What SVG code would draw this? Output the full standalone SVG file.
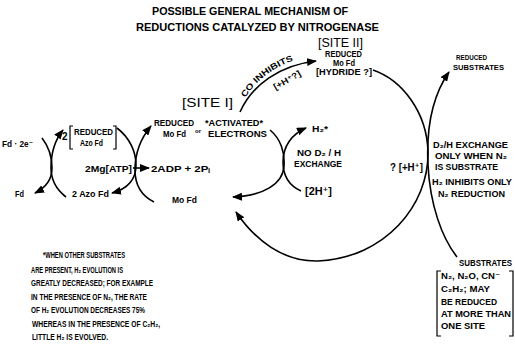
<svg xmlns="http://www.w3.org/2000/svg" width="515" height="354" viewBox="0 0 515 354">
<style>
text { font-family: "Liberation Sans", "DejaVu Sans", Arial, sans-serif; font-weight: bold; font-size: 8.5px; fill: #000; }
.title { font-size: 10px; }
.big { font-size: 13px; font-weight: normal; }
.sm { font-size: 7.5px; }
.tiny { font-size: 6px; }
.fn { font-size: 8.8px; }
.ln { fill: none; stroke: #000; stroke-width: 1.6; }
.br { fill: none; stroke: #000; stroke-width: 1.2; }
</style>
<defs>
<marker id="ah" viewBox="0 0 10 8" refX="9" refY="4" markerWidth="10" markerHeight="8" markerUnits="userSpaceOnUse" orient="auto">
<path d="M0,0 L10,4 L0,8 z" fill="#000"/>
</marker>
<path id="coPath" d="M242,104 C254,79 281,60 316,55"/>
</defs>
<rect width="515" height="354" fill="#fff"/>

<g id="title">
<text class="title" x="152" y="14.5" textLength="196" lengthAdjust="spacingAndGlyphs">POSSIBLE GENERAL MECHANISM OF</text>
<text class="title" x="136" y="30.5" textLength="243" lengthAdjust="spacingAndGlyphs">REDUCTIONS CATALYZED BY NITROGENASE</text>
</g>

<g id="connectors">
<path class="ln" d="M42,138 C49,147 52,158 52,168 C52,180 45,188 35,193" marker-end="url(#ah)"/>
<path class="ln" d="M66,197 C57,190 51,180 51,168 C51,153 55,140 63,130" marker-end="url(#ah)"/>
<path class="ln" d="M117,128 C130,138 136,152 136,165 C136,180 127,189 112,193" marker-end="url(#ah)"/>
<path class="ln" d="M154,202 C142,196 135,185 135,170 C135,152 141,138 151,126" marker-end="url(#ah)"/>
<path class="ln" d="M133,168 L149,168" marker-end="url(#ah)"/>
<path class="ln" d="M240,112 C252,85 280,65 316,61" marker-end="url(#ah)"/>
<path class="ln" d="M270,130 C281,139 285,153 284,166 C283,184 263,196 233,197" marker-end="url(#ah)"/>
<path class="ln" d="M301,191 C290,186 283,176 283,162 C283,146 292,134 306,128" marker-end="url(#ah)"/>
<path class="ln" d="M373,70 C402,80 427,112 428,152 C429,205 385,258 318,261 C283,262 255,240 236,212" marker-end="url(#ah)"/>
<path class="ln" d="M457,257 C442,238 430,205 428,165 C426,125 433,95 449,72" marker-end="url(#ah)"/>
</g>

<g id="site2">
<text class="big" x="318" y="47" textLength="45" lengthAdjust="spacingAndGlyphs">[SITE II]</text>
<text x="325" y="56.5" textLength="37" lengthAdjust="spacingAndGlyphs">REDUCED</text>
<text x="333" y="65.5" textLength="22" lengthAdjust="spacingAndGlyphs">Mo Fd</text>
<text x="316" y="74.5" textLength="56" lengthAdjust="spacingAndGlyphs">[HYDRIDE ?]</text>
</g>

<g id="reduced-substrates">
<text class="sm" x="456" y="59.5" textLength="31" lengthAdjust="spacingAndGlyphs">REDUCED</text>
<text class="sm" x="453" y="69.5" textLength="51" lengthAdjust="spacingAndGlyphs">SUBSTRATES</text>
</g>

<g id="co-inhibits">
<text><textPath href="#coPath" startOffset="7" textLength="62" lengthAdjust="spacingAndGlyphs">CO INHIBITS</textPath></text>
<text transform="translate(287,80) rotate(-30)" text-anchor="middle" y="3" textLength="30" lengthAdjust="spacingAndGlyphs">[+H⁺?]</text>
</g>

<g id="site1">
<text class="big" x="182" y="107" textLength="51" lengthAdjust="spacingAndGlyphs">[SITE I]</text>
</g>

<g id="reduced-mofd">
<text x="154" y="126" textLength="40" lengthAdjust="spacingAndGlyphs">REDUCED</text>
<text x="163" y="136.5" textLength="23" lengthAdjust="spacingAndGlyphs">Mo Fd</text>
<text class="tiny" x="195" y="133" textLength="6" lengthAdjust="spacingAndGlyphs">or</text>
<text x="205" y="126" textLength="58" lengthAdjust="spacingAndGlyphs">*ACTIVATED*</text>
<text x="208" y="136.5" textLength="59" lengthAdjust="spacingAndGlyphs">ELECTRONS</text>
</g>

<g id="fd-2e">
<text x="2" y="146.5" textLength="31" lengthAdjust="spacingAndGlyphs">Fd · 2e⁻</text>
</g>

<g id="reduced-azofd">
<text style="font-size:10px" x="62" y="139.5">2</text>
<path class="br" d="M73,126 L70,126 L70,149 L73,149 M113,126 L116,126 L116,149 L113,149"/>
<text x="74" y="134.5" textLength="39" lengthAdjust="spacingAndGlyphs">REDUCED</text>
<text x="80" y="145.5" textLength="23" lengthAdjust="spacingAndGlyphs">Azo Fd</text>
</g>

<g id="atp">
<text x="85" y="171.5" textLength="47" lengthAdjust="spacingAndGlyphs">2Mg[ATP]</text>
</g>

<g id="adp">
<text x="151" y="171.5" textLength="59" lengthAdjust="spacingAndGlyphs">2ADP + 2Pᵢ</text>
</g>

<g id="fd">
<text x="15" y="196.5" textLength="9" lengthAdjust="spacingAndGlyphs">Fd</text>
</g>

<g id="azofd">
<text x="72" y="196.5" textLength="37" lengthAdjust="spacingAndGlyphs">2 Azo Fd</text>
</g>

<g id="mofd">
<text x="172" y="202.5" textLength="25" lengthAdjust="spacingAndGlyphs">Mo Fd</text>
</g>

<g id="h2">
<text x="312" y="132" textLength="16" lengthAdjust="spacingAndGlyphs">H₂*</text>
</g>

<g id="no-exchange">
<text x="297" y="155.5" textLength="44" lengthAdjust="spacingAndGlyphs">NO D₂ / H</text>
<text x="294" y="166.5" textLength="48" lengthAdjust="spacingAndGlyphs">EXCHANGE</text>
</g>

<g id="two-h">
<text style="font-size:10px" x="305" y="194.5" textLength="27" lengthAdjust="spacingAndGlyphs">[2H⁺]</text>
</g>

<g id="h-question">
<text style="font-size:10px" x="390" y="170.5" textLength="33" lengthAdjust="spacingAndGlyphs">? [+H⁺]</text>
</g>

<g id="d2-exchange">
<text x="433" y="147.5" textLength="75" lengthAdjust="spacingAndGlyphs">D₂/H EXCHANGE</text>
<text x="435" y="158.5" textLength="72" lengthAdjust="spacingAndGlyphs">ONLY WHEN N₂</text>
<text x="435" y="169.5" textLength="63" lengthAdjust="spacingAndGlyphs">IS SUBSTRATE</text>
<text x="432" y="184.5" textLength="80" lengthAdjust="spacingAndGlyphs">H₂ INHIBITS ONLY</text>
<text x="438" y="196.5" textLength="67" lengthAdjust="spacingAndGlyphs">N₂ REDUCTION</text>
</g>

<g id="substrates">
<text x="459" y="266" textLength="53" lengthAdjust="spacingAndGlyphs">SUBSTRATES</text>
<path class="br" d="M441,271 L437,271 L437,336 L441,336 M509,271 L513,271 L513,336 L509,336"/>
<text x="441" y="279" textLength="59" lengthAdjust="spacingAndGlyphs">N₂, N₂O, CN⁻</text>
<text x="441" y="292" textLength="49" lengthAdjust="spacingAndGlyphs">C₂H₂; MAY</text>
<text x="441" y="305" textLength="56" lengthAdjust="spacingAndGlyphs">BE REDUCED</text>
<text x="441" y="317" textLength="70" lengthAdjust="spacingAndGlyphs">AT MORE THAN</text>
<text x="441" y="329" textLength="44" lengthAdjust="spacingAndGlyphs">ONE SITE</text>
</g>

<g id="footnote">
<text class="fn" x="43" y="258" textLength="82" lengthAdjust="spacingAndGlyphs">*WHEN OTHER SUBSTRATES</text>
<text class="fn" x="31" y="273" textLength="92" lengthAdjust="spacingAndGlyphs">ARE PRESENT, H₂ EVOLUTION IS</text>
<text class="fn" x="31" y="286" textLength="122" lengthAdjust="spacingAndGlyphs">GREATLY DECREASED; FOR EXAMPLE</text>
<text class="fn" x="31" y="300" textLength="116" lengthAdjust="spacingAndGlyphs">IN THE PRESENCE OF N₂, THE RATE</text>
<text class="fn" x="31" y="313" textLength="114" lengthAdjust="spacingAndGlyphs">OF H₂ EVOLUTION DECREASES 75%</text>
<text class="fn" x="32" y="327" textLength="128" lengthAdjust="spacingAndGlyphs">WHEREAS  IN THE PRESENCE OF C₂H₂,</text>
<text class="fn" x="32" y="340" textLength="76" lengthAdjust="spacingAndGlyphs">LITTLE H₂ IS EVOLVED.</text>
</g>
</svg>
